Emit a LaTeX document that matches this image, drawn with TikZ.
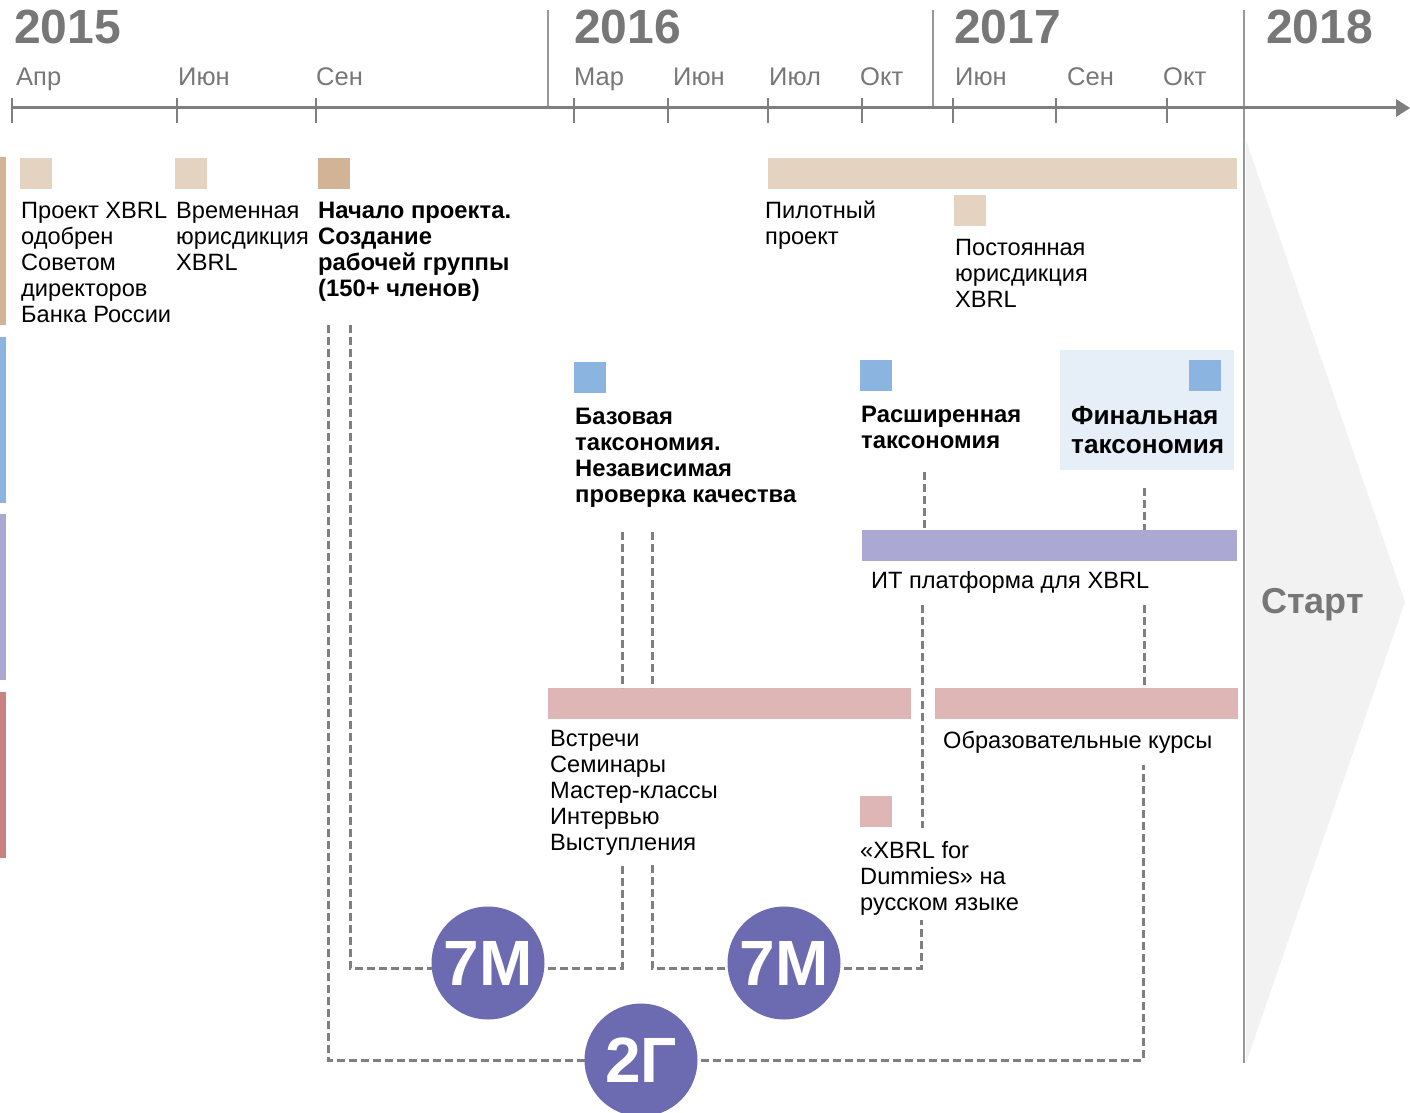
\documentclass[tikz,border=0pt]{standalone}
\usepackage{fontspec}
\usetikzlibrary{calc}
\setmainfont{Liberation Sans}
\definecolor{tanD}{HTML}{D3B396}
\definecolor{tanL}{HTML}{E5D3C1}
\definecolor{blueS}{HTML}{8CB4E0}
\definecolor{blueBG}{HTML}{E6EEF8}
\definecolor{lav}{HTML}{ABA8D4}
\definecolor{roseL}{HTML}{DEB6B6}
\definecolor{roseD}{HTML}{C88282}
\definecolor{grayT}{HTML}{777777}
\definecolor{axisC}{HTML}{7F7F7F}
\definecolor{chev}{HTML}{F2F2F2}
\definecolor{circC}{HTML}{6C6AB0}
\begin{document}
\begin{tikzpicture}[x=1pt,y=-1pt,
  lbl/.style={anchor=base west,inner sep=0pt,align=left,font=\fontsize{23.6}{26}\selectfont},
  blbl/.style={lbl,font=\fontsize{23.8}{26}\selectfont\bfseries},
  yearlbl/.style={anchor=base west,inner sep=0pt,text=grayT,font=\fontsize{48}{50}\selectfont\bfseries},
  monlbl/.style={anchor=base west,inner sep=0pt,text=grayT,font=\fontsize{25.5}{28}\selectfont},
  dashline/.style={draw=axisC,line width=3pt,dash pattern=on 8pt off 4pt},
  bignum/.style={circle,fill=circC,minimum size=113pt,inner sep=0pt,text=white,font=\fontsize{64}{64}\selectfont\bfseries},
  sq/.style={inner sep=0pt,minimum width=32pt,minimum height=31pt,anchor=north west}
]
\useasboundingbox (0,0) rectangle (1410,1113);
% chevron
\fill[chev] (1246,140) -- (1405,602) -- (1246,1063) -- cycle;
\node[anchor=base west,inner sep=0pt,text=grayT,font=\fontsize{36}{38}\selectfont\bfseries] (start) at (1261,613) {Старт};
% year separators
\draw[axisC!80,line width=2pt] (548,10) -- (548,108);
\draw[axisC!80,line width=2pt] (933,10) -- (933,108);
\draw[axisC!80,line width=2pt] (1244,10) -- (1244,1063);
% axis
\draw[axisC,line width=3pt] (12,108) -- (1400,108);
\fill[axisC] (1396,99) -- (1410,108) -- (1396,117) -- cycle;
\foreach \t in {12,177,316,574,668,768,862,953,1056,1167}
  \draw[axisC,line width=1.5pt] (\t,98) -- (\t,123);
% years
\node[yearlbl] (y15) at (14,44) {2015};
\node[yearlbl] (y16) at (574,44) {2016};
\node[yearlbl] (y17) at (954,44) {2017};
\node[yearlbl] (y18) at (1266,44) {2018};
% months
\node[monlbl] (m1) at (16,86) {Апр};
\node[monlbl] (m2) at (178,86) {Июн};
\node[monlbl] (m3) at (316,86) {Сен};
\node[monlbl] (m4) at (574,86) {Мар};
\node[monlbl] (m5) at (673,86) {Июн};
\node[monlbl] (m6) at (769,86) {Июл};
\node[monlbl] (m7) at (860,86) {Окт};
\node[monlbl] (m8) at (955,86) {Июн};
\node[monlbl] (m9) at (1067,86) {Сен};
\node[monlbl] (m10) at (1163,86) {Окт};
% left bars
\fill[tanD] (0,157) rectangle (6,325);
\fill[blueS] (0,337) rectangle (6,503);
\fill[lav] (0,514) rectangle (6,680);
\fill[roseD] (0,692) rectangle (6,858);
% row 1
\node[sq,fill=tanL] (s1) at (20,158) {};
\node[sq,fill=tanL] (s2) at (175,158) {};
\node[sq,fill=tanD] (s3) at (318,158) {};
\node[inner sep=0pt,fill=tanL,minimum width=469pt,minimum height=31pt,anchor=north west] (pilot) at (768,158) {};
\node[sq,fill=tanL] (s4) at (954,195) {};
% (base anchor = baseline of the last line)
\node[lbl] (t1) at (21,322) {Проект XBRL\\одобрен\\Советом\\директоров\\Банка России};
\node[lbl] (t2) at (176,270) {Временная\\юрисдикция\\XBRL};
\node[blbl] (t3) at (318,296) {Начало проекта.\\Создание\\рабочей группы\\(150+ членов)};
\node[lbl] (t4) at (765,244) {Пилотный\\проект};
\node[lbl] (t5) at (955,307) {Постоянная\\юрисдикция\\XBRL};
% row 2
\fill[blueBG] (1060,350) rectangle (1234,470);
\node[sq,fill=blueS] (b1) at (574,362) {};
\node[sq,fill=blueS] (b2) at (860,360) {};
\node[sq,fill=blueS] (b3) at (1189,360) {};
\node[blbl] (t6) at (575,502) {Базовая\\таксономия.\\Независимая\\проверка качества};
\node[blbl] (t7) at (861,448) {Расширенная\\таксономия};
\node[anchor=base west,inner sep=0pt,align=left,font=\fontsize{26.2}{29}\selectfont\bfseries] (t8) at (1071,453) {Финальная\\таксономия};
% row 3
\node[inner sep=0pt,fill=lav,minimum width=375pt,minimum height=31pt,anchor=north west] (itbar) at (862,530) {};
\node[lbl] (t9) at (871,588) {ИТ платформа для XBRL};
% row 4
\node[inner sep=0pt,fill=roseL,minimum width=363pt,minimum height=31pt,anchor=north west] (meet) at (548,688) {};
\node[inner sep=0pt,fill=roseL,minimum width=303pt,minimum height=31pt,anchor=north west] (edu) at (935,688) {};
\node[sq,fill=roseL] (r1) at (860,796) {};
\node[lbl] (t10) at (550,850) {Встречи\\Семинары\\Мастер-классы\\Интервью\\Выступления};
\node[lbl] (t11) at (943,748) {Образовательные курсы};
\node[lbl] (t12) at (860,910) {«XBRL for\\Dummies» на\\русском языке};
% circle positions (drawn after connectors)
\coordinate (c1p) at (488,963);
\coordinate (c2p) at (784,963);
\coordinate (c3p) at (641,1060);
% coordinates for connectors
\coordinate (a1) at (328,325);
\coordinate (a2) at (1143,765);
\coordinate (bb1) at (350,325);
\coordinate (bb2) at (622,865);
\coordinate (cc1) at (652,865);
\coordinate (cc2) at (921,920);
\coordinate (u1) at (622,532); \coordinate (u1e) at (622,688);
\coordinate (u2) at (652,532); \coordinate (u2e) at (652,688);
\coordinate (v1) at (924,472); \coordinate (v1e) at (924,530);
\coordinate (v2) at (922,605); \coordinate (v2e) at (922,828);
\coordinate (w1) at (1144,488); \coordinate (w1e) at (1144,530);
\coordinate (w2) at (1144,605); \coordinate (w2e) at (1144,688);
% connectors (the 7M brackets run 5px below the circle centres)
\draw[dashline] (a1) |- (c3p);
\draw[dashline] (c3p) -| (a2);
\draw[dashline] (bb1) |- ($(c1p)+(0,5)$);
\draw[dashline] ($(c1p)+(0,5)$) -| (bb2);
\draw[dashline] (cc1) |- ($(c2p)+(0,5)$);
\draw[dashline] ($(c2p)+(0,5)$) -| (cc2);
\draw[dashline] (u1) -- (u1e);
\draw[dashline] (u2) -- (u2e);
\draw[dashline] (v1) -- (v1e);
\draw[dashline] (v2) -- (v2e);
\draw[dashline] (w1) -- (w1e);
\draw[dashline] (w2) -- (w2e);
% circles
\node[bignum] (c1) at (c1p) {7М};
\node[bignum] (c2) at (c2p) {7М};
\node[bignum] (c3) at (c3p) {2Г};
\end{tikzpicture}
\end{document}
